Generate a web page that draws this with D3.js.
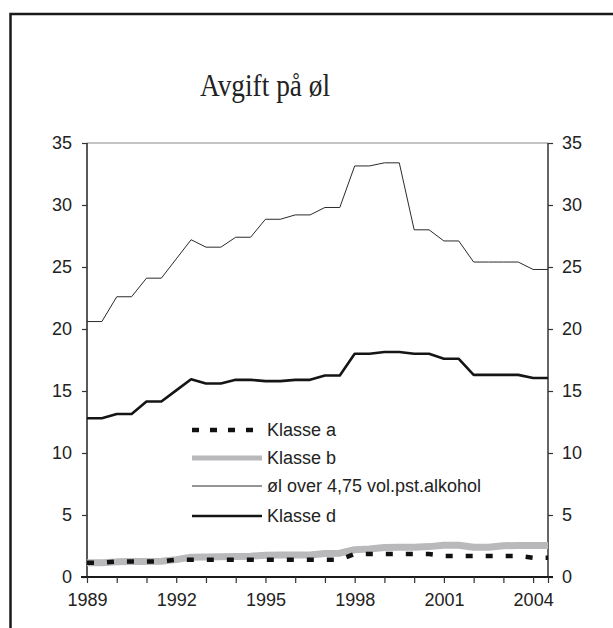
<!DOCTYPE html>
<html>
<head>
<meta charset="utf-8">
<script src="https://cdn.jsdelivr.net/npm/d3@7"></script>
<style>
  body { margin: 0; background: #fff; }
  svg text { font-family: "Liberation Sans", Arial, sans-serif; fill: #222; }
  .title { font-family: "Liberation Serif", "Times New Roman", serif; }
</style>
</head>
<body>
<svg id="chart" width="613" height="628"></svg>
<script>
// half-year observations, 1989 (1. halvår) to 2004 (2. halvår)
var periods = d3.range(0, 32).map(function(i) { return 1989 + i / 2; });

var klasseA = [1.15, 1.15, 1.25, 1.25, 1.25, 1.25, 1.4, 1.4, 1.4, 1.4, 1.4, 1.4, 1.4, 1.4, 1.4, 1.4,
               1.4, 1.4, 1.85, 1.85, 1.85, 1.85, 1.85, 1.85, 1.7, 1.7, 1.7, 1.7, 1.7, 1.7, 1.55, 1.55];
var klasseB = [1.15, 1.15, 1.22, 1.25, 1.25, 1.27, 1.4, 1.6, 1.62, 1.63, 1.65, 1.68, 1.76, 1.77, 1.77, 1.78,
               1.9, 1.92, 2.2, 2.25, 2.38, 2.4, 2.4, 2.45, 2.56, 2.56, 2.4, 2.4, 2.52, 2.55, 2.55, 2.55];
var olOver475 = [20.6, 20.6, 22.6, 22.6, 24.1, 24.1, 25.65, 27.2, 26.6, 26.6, 27.4, 27.4, 28.85, 28.85, 29.2, 29.2,
                 29.8, 29.8, 33.15, 33.15, 33.4, 33.4, 28.0, 28.0, 27.1, 27.1, 25.4, 25.4, 25.4, 25.4, 24.8, 24.8];
var klasseD = [12.8, 12.8, 13.15, 13.15, 14.15, 14.15, 15.05, 15.95, 15.6, 15.6, 15.9, 15.9, 15.8, 15.8, 15.9, 15.9,
               16.25, 16.25, 18.0, 18.0, 18.15, 18.15, 18.0, 18.0, 17.6, 17.6, 16.3, 16.3, 16.3, 16.3, 16.05, 16.05];

var seriesNames = ["Klasse a", "Klasse b", "øl over 4,75 vol.pst.alkohol", "Klasse d"];
var yTicks = [0, 5, 10, 15, 20, 25, 30, 35];
var xLabelYears = [1989, 1992, 1995, 1998, 2001, 2004];

var svg = d3.select("#chart");

// outer frame (runs off the right and bottom edge)
svg.append("rect")
    .attr("x", 10.5).attr("y", 14)
    .attr("width", 700).attr("height", 700)
    .attr("fill", "none")
    .attr("stroke", "#1a1a1a")
    .attr("stroke-width", 2.5);

svg.append("text")
    .attr("class", "title")
    .attr("x", 265).attr("y", 96)
    .attr("text-anchor", "middle")
    .attr("font-size", 31)
    .attr("textLength", 130)
    .attr("lengthAdjust", "spacingAndGlyphs")
    .text("Avgift på øl");

var x = d3.scaleLinear().domain([1989, 2004.5]).range([87, 548]);
var y = d3.scaleLinear().domain([0, 35]).range([577, 143]);

// top border of plot area
svg.append("line")
    .attr("x1", x.range()[0]).attr("x2", x.range()[1])
    .attr("y1", y(35)).attr("y2", y(35))
    .attr("stroke", "#8a8a8a").attr("stroke-width", 1.2);

// left axis
var yLeft = svg.append("g")
    .attr("transform", "translate(" + x.range()[0] + ",0)")
    .call(d3.axisLeft(y).tickValues(yTicks).tickSize(5).tickPadding(10));

// right axis
var yRight = svg.append("g")
    .attr("transform", "translate(" + x.range()[1] + ",0)")
    .call(d3.axisRight(y).tickValues(yTicks).tickSize(5).tickPadding(9));

// bottom axis: a tick every year and one at the end, labels every third year
var xTickVals = d3.range(1989, 2005).concat([2004.5]);
var xAxis = svg.append("g")
    .attr("transform", "translate(0," + y(0) + ")")
    .call(d3.axisBottom(x)
        .tickValues(xTickVals)
        .tickSize(6)
        .tickPadding(10)
        .tickFormat(function(d) { return xLabelYears.indexOf(d) >= 0 ? d : ""; }));

[yLeft, yRight, xAxis].forEach(function(g) {
    g.selectAll("text").attr("font-size", 18).attr("fill", "#222")
        .attr("font-family", "Liberation Sans, Arial, sans-serif");
    g.selectAll("line").attr("stroke", "#333").attr("stroke-width", 1.2);
});
yLeft.select(".domain").attr("stroke", "#222").attr("stroke-width", 1.5)
    .attr("d", "M0," + y(35) + "V" + y(0));
yRight.select(".domain").attr("stroke", "#333").attr("stroke-width", 1.5)
    .attr("d", "M0," + y(35) + "V" + y(0));
xAxis.select(".domain").attr("stroke", "#1a1a1a").attr("stroke-width", 2.2)
    .attr("d", "M" + (x.range()[0] - 6) + ",0H" + (x.range()[1] + 5));

var line = d3.line()
    .x(function(d, i) { return x(periods[i]); })
    .y(function(d) { return y(d); });

var styles = [
    { data: klasseA, color: "#111", width: 4.5, dash: "7,13", legendDash: "7,11", legendWidth: 4.5 },
    { data: klasseB, color: "#b9b9bb", width: 7, dash: null, legendDash: null, legendWidth: 5 },
    { data: olOver475, color: "#2a2a2a", width: 1, dash: null, legendDash: null, legendWidth: 1 },
    { data: klasseD, color: "#151515", width: 2.6, dash: null, legendDash: null, legendWidth: 2.4 }
];

// draw b first so the dashed a line sits on top of it
[1, 0, 2, 3].forEach(function(k) {
    var s = styles[k];
    svg.append("path")
        .datum(s.data)
        .attr("fill", "none")
        .attr("stroke", s.color)
        .attr("stroke-width", s.width)
        .attr("stroke-dasharray", s.dash)
        .attr("stroke-linejoin", "round")
        .attr("d", line);
});

// legend
var legendY = [430, 458, 486, 516];
var leg = svg.append("g");
seriesNames.forEach(function(name, k) {
    var s = styles[k];
    leg.append("line")
        .attr("x1", 192).attr("x2", 262)
        .attr("y1", legendY[k]).attr("y2", legendY[k])
        .attr("stroke", s.color)
        .attr("stroke-width", s.legendWidth)
        .attr("stroke-dasharray", s.legendDash);
    leg.append("text")
        .attr("x", 267).attr("y", legendY[k] + 6)
        .attr("font-size", 18)
        .text(name);
});
</script>
</body>
</html>
